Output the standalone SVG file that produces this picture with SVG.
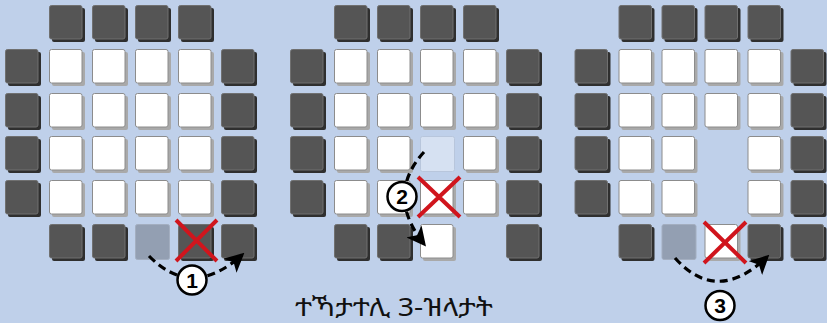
<svg xmlns="http://www.w3.org/2000/svg" xmlns:xlink="http://www.w3.org/1999/xlink" width="827" height="323" viewBox="0 0 827 323">
<style>
.bg{fill:#bfd0ea}
.ds{fill:#2f2f2f}
.df{fill:#555555;stroke:#707070;stroke-width:1}
.ws{fill:#a9a9a9}
.wf{fill:#ffffff;stroke:#8c8c8c;stroke-width:1}
.gf{fill:#939fb2;stroke:#a3aec0;stroke-width:1}
.lf{fill:#d6e1f2;stroke:#b8c6dc;stroke-width:1}
.x{stroke:#d0151d;stroke-width:4;fill:none}
.arr{fill:none;stroke:#000;stroke-width:3.2;stroke-dasharray:8 5}
.num{fill:#fff;stroke:#000;stroke-width:2.5}
.nt{font-family:"Liberation Sans",Arial,sans-serif;font-weight:bold;font-size:21px;text-anchor:middle;fill:#000}
.cap{font-family:"Noto Sans Ethiopic","Abyssinica SIL","DejaVu Sans",sans-serif;font-size:25px;text-anchor:middle;fill:#111}
</style>
<defs>
<g id="dk"><rect class="ds" x="3" y="3" width="33" height="34" rx="2"/><rect class="df" x="0.5" y="0.5" width="32.5" height="33.5" rx="2"/></g>
<g id="wt"><rect class="ws" x="3" y="3" width="33" height="34" rx="2"/><rect class="wf" x="0.5" y="0.5" width="32.5" height="33.5" rx="2"/></g>
<g id="gy"><rect class="gf" x="0.5" y="0.5" width="34" height="35" rx="2"/></g>
<g id="lt"><rect class="lf" x="0.5" y="0.5" width="34" height="35" rx="2"/></g>
<marker id="ah" viewBox="0 0 12 12" refX="10" refY="6" markerWidth="6" markerHeight="6" orient="auto" markerUnits="strokeWidth">
<path d="M0,0 L12,6 L0,12 L3,6 Z" fill="#000"/>
</marker>
</defs>
<rect class="bg" x="0" y="0" width="827" height="323"/>

<g id="panel1" transform="translate(5,5)">
<use xlink:href="#dk" x="44" y="0"/><use xlink:href="#dk" x="87" y="0"/><use xlink:href="#dk" x="130" y="0"/><use xlink:href="#dk" x="173" y="0"/>
<use xlink:href="#dk" x="0" y="44"/><use xlink:href="#wt" x="44" y="44"/><use xlink:href="#wt" x="87" y="44"/><use xlink:href="#wt" x="130" y="44"/><use xlink:href="#wt" x="173" y="44"/><use xlink:href="#dk" x="216" y="44"/>
<use xlink:href="#dk" x="0" y="88"/><use xlink:href="#wt" x="44" y="88"/><use xlink:href="#wt" x="87" y="88"/><use xlink:href="#wt" x="130" y="88"/><use xlink:href="#wt" x="173" y="88"/><use xlink:href="#dk" x="216" y="88"/>
<use xlink:href="#dk" x="0" y="131"/><use xlink:href="#wt" x="44" y="131"/><use xlink:href="#wt" x="87" y="131"/><use xlink:href="#wt" x="130" y="131"/><use xlink:href="#wt" x="173" y="131"/><use xlink:href="#dk" x="216" y="131"/>
<use xlink:href="#dk" x="0" y="175"/><use xlink:href="#wt" x="44" y="175"/><use xlink:href="#wt" x="87" y="175"/><use xlink:href="#wt" x="130" y="175"/><use xlink:href="#wt" x="173" y="175"/><use xlink:href="#dk" x="216" y="175"/>
<use xlink:href="#dk" x="44" y="219"/><use xlink:href="#dk" x="87" y="219"/><use xlink:href="#gy" x="130" y="219"/><use xlink:href="#dk" x="173" y="219"/><use xlink:href="#dk" x="216" y="219"/>
</g>

<g id="panel2" transform="translate(290,5)">
<use xlink:href="#dk" x="44" y="0"/><use xlink:href="#dk" x="87" y="0"/><use xlink:href="#dk" x="130" y="0"/><use xlink:href="#dk" x="173" y="0"/>
<use xlink:href="#dk" x="0" y="44"/><use xlink:href="#wt" x="44" y="44"/><use xlink:href="#wt" x="87" y="44"/><use xlink:href="#wt" x="130" y="44"/><use xlink:href="#wt" x="173" y="44"/><use xlink:href="#dk" x="216" y="44"/>
<use xlink:href="#dk" x="0" y="88"/><use xlink:href="#wt" x="44" y="88"/><use xlink:href="#wt" x="87" y="88"/><use xlink:href="#wt" x="130" y="88"/><use xlink:href="#wt" x="173" y="88"/><use xlink:href="#dk" x="216" y="88"/>
<use xlink:href="#dk" x="0" y="131"/><use xlink:href="#wt" x="44" y="131"/><use xlink:href="#wt" x="87" y="131"/><use xlink:href="#lt" x="130" y="131"/><use xlink:href="#wt" x="173" y="131"/><use xlink:href="#dk" x="216" y="131"/>
<use xlink:href="#dk" x="0" y="175"/><use xlink:href="#wt" x="44" y="175"/><use xlink:href="#wt" x="87" y="175"/><use xlink:href="#wt" x="130" y="175"/><use xlink:href="#wt" x="173" y="175"/><use xlink:href="#dk" x="216" y="175"/>
<use xlink:href="#dk" x="44" y="219"/><use xlink:href="#dk" x="87" y="219"/><use xlink:href="#wt" x="130" y="219"/><use xlink:href="#dk" x="216" y="219"/>
</g>

<g id="panel3" transform="translate(574.5,5)">
<use xlink:href="#dk" x="44" y="0"/><use xlink:href="#dk" x="87" y="0"/><use xlink:href="#dk" x="130" y="0"/><use xlink:href="#dk" x="173" y="0"/>
<use xlink:href="#dk" x="0" y="44"/><use xlink:href="#wt" x="44" y="44"/><use xlink:href="#wt" x="87" y="44"/><use xlink:href="#wt" x="130" y="44"/><use xlink:href="#wt" x="173" y="44"/><use xlink:href="#dk" x="216" y="44"/>
<use xlink:href="#dk" x="0" y="88"/><use xlink:href="#wt" x="44" y="88"/><use xlink:href="#wt" x="87" y="88"/><use xlink:href="#wt" x="130" y="88"/><use xlink:href="#wt" x="173" y="88"/><use xlink:href="#dk" x="216" y="88"/>
<use xlink:href="#dk" x="0" y="131"/><use xlink:href="#wt" x="44" y="131"/><use xlink:href="#wt" x="87" y="131"/><use xlink:href="#wt" x="173" y="131"/><use xlink:href="#dk" x="216" y="131"/>
<use xlink:href="#dk" x="0" y="175"/><use xlink:href="#wt" x="44" y="175"/><use xlink:href="#wt" x="87" y="175"/><use xlink:href="#wt" x="173" y="175"/><use xlink:href="#dk" x="216" y="175"/>
<use xlink:href="#dk" x="44" y="219"/><use xlink:href="#gy" x="87" y="219"/><use xlink:href="#wt" x="130" y="219"/><use xlink:href="#dk" x="173" y="219"/><use xlink:href="#dk" x="216" y="219"/>
</g>

<g id="crosses">
<path class="x" d="M176,220 L217,261 M217,220 L176,261"/>
<path class="x" d="M418,177 L460,217 M460,177 L418,217"/>
<path class="x" d="M704,222 L746,263 M746,222 L704,263"/>
</g>

<g id="connectors">
<path class="arr" d="M149,256 Q192,300 242,255" marker-end="url(#ah)"/>
<path class="arr" d="M424,152 Q385,195 424,244" marker-end="url(#ah)"/>
<path class="arr" d="M675,258 Q717,305 767,257" marker-end="url(#ah)"/>
</g>

<g id="step1"><circle class="num" cx="192" cy="280" r="14.5"/><text class="nt" x="192" y="287.5">1</text></g>
<g id="step2"><circle class="num" cx="402" cy="196.5" r="14.5"/><text class="nt" x="402" y="204">2</text></g>
<g id="step3"><circle class="num" cx="720" cy="305.5" r="14.5"/><text class="nt" x="720" y="313">3</text></g>

<text class="cap" x="394" y="316" textLength="198" lengthAdjust="spacingAndGlyphs">ተኻታተሊ 3-ዝላታት</text>
</svg>
